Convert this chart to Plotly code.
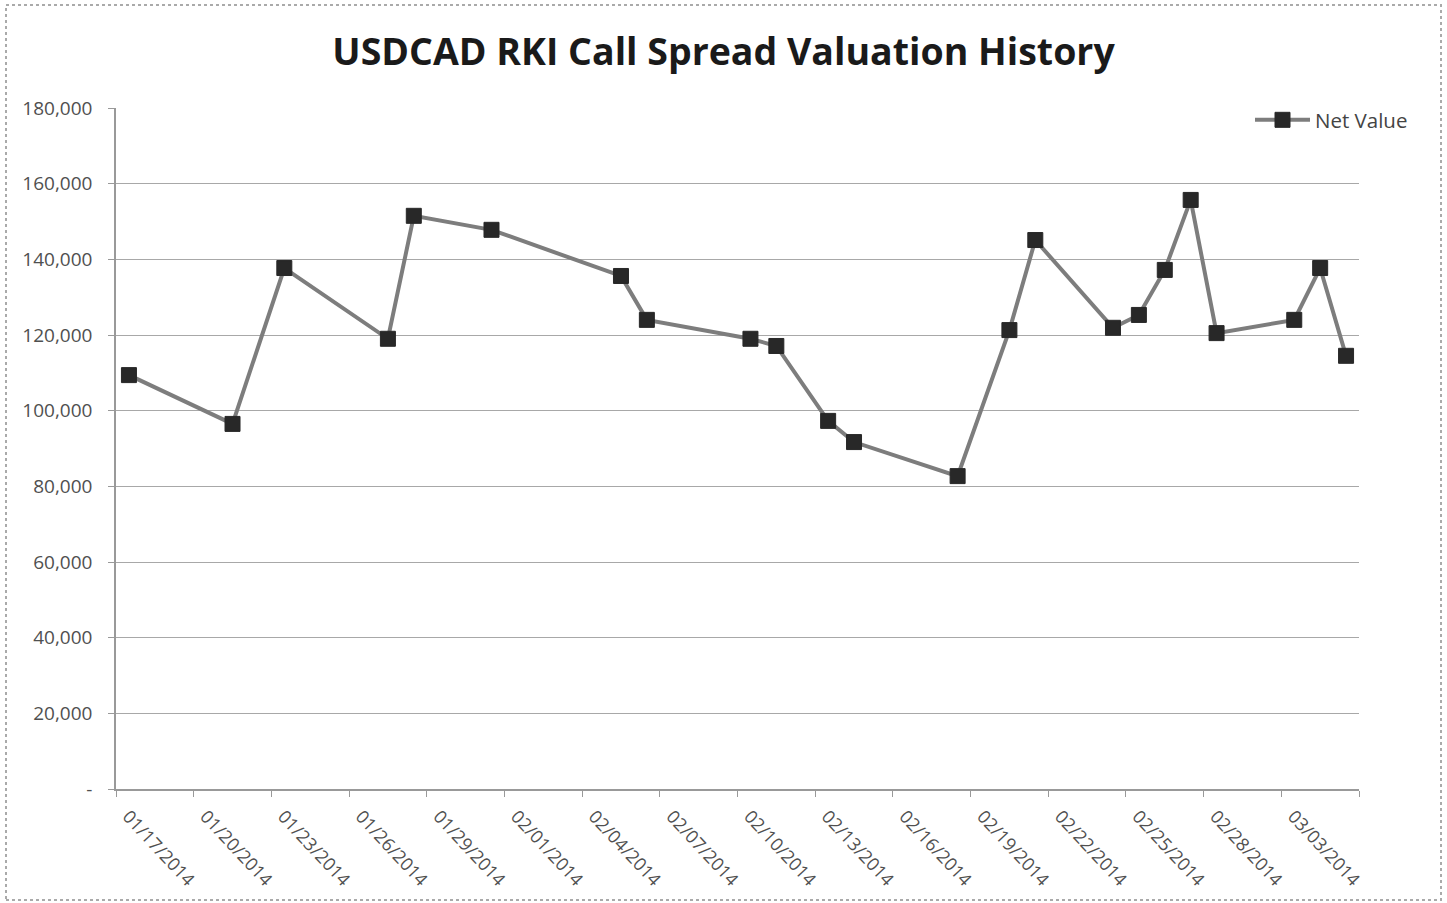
import plotly.graph_objects as go

dates = ["2014-01-17", "2014-01-21", "2014-01-23", "2014-01-27", "2014-01-28", "2014-01-31",
         "2014-02-05", "2014-02-06", "2014-02-10", "2014-02-11", "2014-02-13", "2014-02-14",
         "2014-02-18", "2014-02-20", "2014-02-21", "2014-02-24", "2014-02-25", "2014-02-26",
         "2014-02-27", "2014-02-28", "2014-03-03", "2014-03-04", "2014-03-05"]
net_value = [109400, 96500, 137700, 119000, 151500, 147800,
             135600, 124000, 119000, 117100, 97300, 91700,
             82700, 121300, 145100, 121900, 125300, 137200,
             155700, 120500, 124000, 137700, 114500]

tick_dates = ["2014-01-17", "2014-01-20", "2014-01-23", "2014-01-26", "2014-01-29", "2014-02-01",
              "2014-02-04", "2014-02-07", "2014-02-10", "2014-02-13", "2014-02-16", "2014-02-19",
              "2014-02-22", "2014-02-25", "2014-02-28", "2014-03-03", "2014-03-06"]
tick_labels = ["01/17/2014", "01/20/2014", "01/23/2014", "01/26/2014", "01/29/2014", "02/01/2014",
               "02/04/2014", "02/07/2014", "02/10/2014", "02/13/2014", "02/16/2014", "02/19/2014",
               "02/22/2014", "02/25/2014", "02/28/2014", "03/03/2014", ""]
y_ticks = [0, 20000, 40000, 60000, 80000, 100000, 120000, 140000, 160000, 180000]
y_labels = ["-", "20,000", "40,000", "60,000", "80,000", "100,000", "120,000", "140,000", "160,000", "180,000"]

x_pts = [d + " 12:00" for d in dates]

fig = go.Figure()
fig.add_trace(go.Scatter(
    x=x_pts, y=net_value, mode="lines+markers", name="Net Value",
    line=dict(color="#7d7d7d", width=4),
    marker=dict(symbol="square", size=15, color="#282828", line=dict(color="#282828", width=1)),
))

W, H = 1447, 903
L, R, T, B = 116, 88, 108, 114
pw = W - L - R
ph = H - T - B

fig.update_layout(
    width=W, height=H,
    margin=dict(l=L, r=R, t=T, b=B),
    paper_bgcolor="white", plot_bgcolor="white",
    font=dict(family="Open Sans, Lato, sans-serif", color="#555555", size=16),
    title=dict(text="<b>USDCAD RKI Call Spread Valuation History</b>", x=0.5, xanchor="center",
               y=1 - 52 / H, yanchor="middle",
               font=dict(family="Open Sans, sans-serif", size=37.5, color="#1a1a1a")),
    showlegend=True,
    legend=dict(x=(1250 - L) / pw, y=1 - (120 - T) / ph, xanchor="left", yanchor="middle",
                bgcolor="rgba(0,0,0,0)", font=dict(size=20.5, color="#444444"),
                itemwidth=55, tracegroupgap=0),
    xaxis=dict(
        type="date", range=["2014-01-17", "2014-03-06"],
        tickvals=tick_dates, ticktext=tick_labels, tickangle=47,
        showgrid=False, showline=True, linecolor="#999999", linewidth=1.5,
        ticks="outside", ticklen=6, tickcolor="#999999",
        ticklabelshift=12, ticklabelstandoff=2,
        tickfont=dict(size=18, color="#505050"), zeroline=False,
    ),
    yaxis=dict(
        range=[0, 180000], tickvals=y_ticks, ticktext=y_labels,
        showgrid=True, gridcolor="#a8a8a8", gridwidth=1.3,
        showline=True, linecolor="#999999", linewidth=1.5,
        ticks="outside", ticklen=6, tickcolor="#999999", ticklabelstandoff=12,
        tickfont=dict(size=19, color="#505050"), zeroline=False,
    ),
)

# chart border (dotted)
fig.add_shape(type="rect", xref="paper", yref="paper",
              x0=(6 - L) / pw, x1=(1441 - L) / pw,
              y0=1 - (900 - T) / ph, y1=1 - (5 - T) / ph,
              line=dict(color="#aaaaaa", width=2, dash="dot"), layer="below")

fig.write_html("out.html", config={"displayModeBar": False},
               post_script="document.body.style.margin='0';")
